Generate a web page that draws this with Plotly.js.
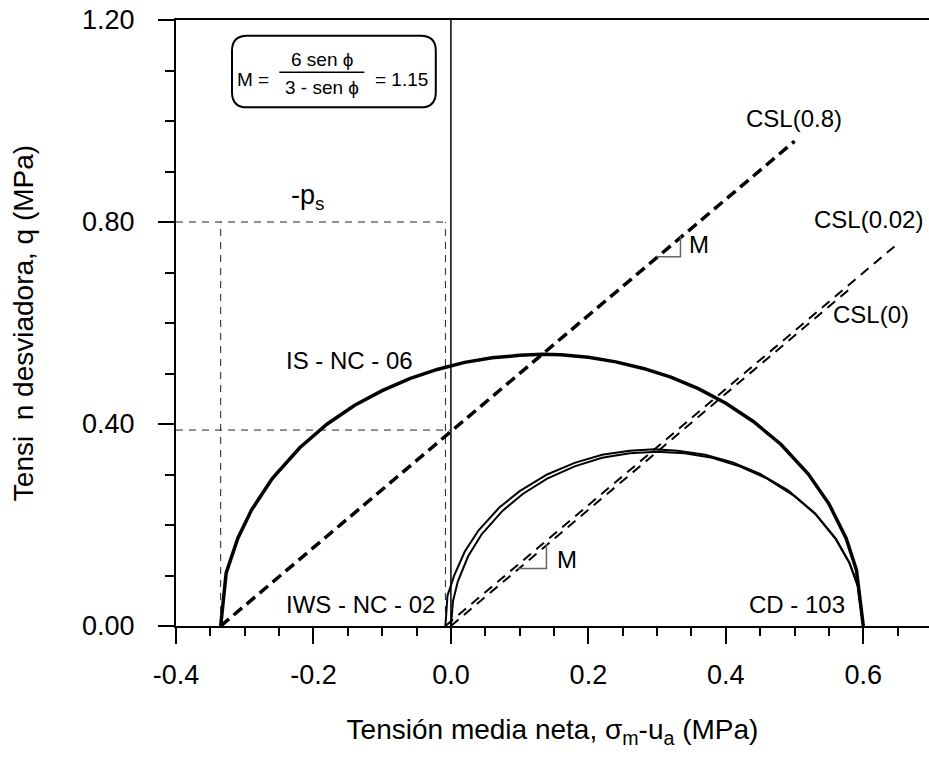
<!DOCTYPE html>
<html>
<head>
<meta charset="utf-8">
<script src="https://cdn.plot.ly/plotly-3.0.1.min.js"></script>
<style>html,body{margin:0;padding:0;background:#fff;}</style>
</head>
<body>
<div id="chart" style="width:929px;height:758px;"></div>
<script>
// ---- data ----
// IS - NC - 06 yield ellipse (thick)
const isnc06_p = [-0.335,-0.327,-0.31,-0.29,-0.26,-0.22,-0.18,-0.14,-0.10,-0.06,-0.02,0.02,0.06,0.10,0.1325,0.16,0.20,0.24,0.28,0.32,0.36,0.40,0.44,0.48,0.52,0.55,0.575,0.59,0.60];
const isnc06_q = [0,0.105,0.174,0.230,0.292,0.353,0.400,0.437,0.466,0.490,0.508,0.522,0.531,0.536,0.538,0.537,0.532,0.523,0.510,0.493,0.470,0.441,0.405,0.360,0.301,0.242,0.174,0.111,0];
// IWS - NC - 02 ellipse (thin, starts at -0.008)
const iws_p = [-0.008,-0.005,0.005,0.02,0.04,0.07,0.10,0.14,0.18,0.22,0.26,0.296,0.33,0.37,0.41,0.45,0.49,0.53,0.56,0.58,0.592,0.60];
const iws_q = [0,0.060,0.101,0.147,0.189,0.234,0.267,0.300,0.323,0.339,0.347,0.350,0.347,0.339,0.324,0.301,0.269,0.223,0.173,0.125,0.080,0];
// CD - 103 ellipse (thin, starts at 0)
const cd_p = [0,0.003,0.01,0.025,0.045,0.075,0.105,0.14,0.18,0.22,0.26,0.30,0.34,0.38,0.42,0.46,0.50,0.53,0.56,0.58,0.592,0.60];
const cd_q = [0,0.049,0.088,0.138,0.182,0.228,0.262,0.292,0.316,0.333,0.342,0.345,0.342,0.333,0.316,0.292,0.257,0.222,0.172,0.124,0.079,0];
// critical state lines
const csl08_p = [-0.335,0.50];   const csl08_q = [0,0.960];
const csl002_p = [-0.008,0.65];  const csl002_q = [0,0.757];
const csl0_p = [0,0.58];         const csl0_q = [0,0.667];
// guide lines
const ps = -0.335;          // -p_s
const ps2 = -0.008;
const qIntercept = 0.388;
const qTop = 0.80;
// slope triangles
const tri1_p = [0.299,0.334,0.334]; const tri1_q = [0.731,0.731,0.772];
const tri2_p = [0.098,0.139,0.139]; const tri2_q = [0.114,0.114,0.163];
// ticks
const xTickVals = [-0.4,-0.2,0.0,0.2,0.4,0.6];
const xTickText = ['-0.4','-0.2','0.0','0.2','0.4','0.6'];
const yTickVals = [0,0.4,0.8,1.2];
const yTickText = ['0.00','0.40','0.80','1.20'];

const line = (x,y,w,dash,color)=>({x:x,y:y,mode:'lines',type:'scatter',hoverinfo:'skip',
  line:{color:color||'black',width:w,dash:dash||'solid'}});

const traces = [
  line([ps,ps],[0,qTop],1,'7px,6px','#222'),
  line([ps2,ps2],[0,qTop],1,'7px,6px','#222'),
  line([-0.4,ps2],[qTop,qTop],1,'7px,6px','#222'),
  line([-0.4,0],[qIntercept,qIntercept],1,'7px,6px','#222'),
  line([0,0],[0,1.2],1.5,'solid','black'),
  line(csl08_p,csl08_q,3.5,'11px,6px'),
  line(csl002_p,csl002_q,2,'10px,7px'),
  line(csl0_p,csl0_q,2,'10px,7px'),
  line(isnc06_p,isnc06_q,3.5),
  line(iws_p,iws_q,2),
  line(cd_p,cd_q,2),
  line(tri1_p,tri1_q,1.5,'solid','#666'),
  line(tri2_p,tri2_q,1.5,'solid','#666')
];

const ann = (x,y,t,size,xa)=>({x:x,y:y,xref:'x',yref:'y',text:t,showarrow:false,
  xanchor:xa||'center',yanchor:'middle',font:{size:size,color:'black'}});

// formula box geometry (data coords)
const bx0=-0.3185, bx1=-0.022, by0=1.027, by1=1.1686, rx=0.022, ry=0.03;
const boxPath = `M ${bx0+rx},${by1} L ${bx1-rx},${by1} Q ${bx1},${by1} ${bx1},${by1-ry} L ${bx1},${by0+ry} Q ${bx1},${by0} ${bx1-rx},${by0} L ${bx0+rx},${by0} Q ${bx0},${by0} ${bx0},${by0+ry} L ${bx0},${by1-ry} Q ${bx0},${by1} ${bx0+rx},${by1} Z`;

const layout = {
  width:929, height:758,
  margin:{l:176,r:0,t:20,b:132},
  paper_bgcolor:'white', plot_bgcolor:'white',
  showlegend:false,
  font:{family:'"Liberation Sans", Arial, sans-serif', color:'black'},
  xaxis:{
    range:[-0.4,0.6956], tickmode:'array', tickvals:xTickVals, ticktext:xTickText,
    ticks:'outside', ticklen:16, tickwidth:2, tickcolor:'black',
    minor:{tickmode:'linear', tick0:-0.4, dtick:0.05, ticks:'outside', ticklen:8, tickwidth:2, tickcolor:'black', showgrid:false},
    showline:true, linewidth:2, linecolor:'black', mirror:true,
    showgrid:false, zeroline:false, tickfont:{size:27}, ticklabelstandoff:8,
    title:{text:'Tensión media neta, σ<sub>m</sub>-u<sub>a</sub> (MPa)', font:{size:28}, standoff:30}
  },
  yaxis:{
    range:[0,1.2], tickmode:'array', tickvals:yTickVals, ticktext:yTickText,
    ticks:'outside', ticklen:16, tickwidth:2, tickcolor:'black',
    minor:{tickmode:'linear', tick0:0, dtick:0.1, ticks:'outside', ticklen:9, tickwidth:2, tickcolor:'black', showgrid:false},
    showline:true, linewidth:2, linecolor:'black', mirror:false,
    showgrid:false, zeroline:false, tickfont:{size:27}, ticklabelstandoff:18,
    title:{text:'Tensi  n desviadora, q (MPa)', font:{size:28}, standoff:40}
  },
  shapes:[
    {type:'path', xref:'x', yref:'y', path:boxPath, line:{color:'black',width:2}, fillcolor:'rgba(0,0,0,0)'},
    {type:'line', xref:'x', yref:'y', x0:-0.2497, x1:-0.126, y0:1.0966, y1:1.0966, line:{color:'black',width:1.5}}
  ],
  annotations:[
    ann(-0.288,1.083,'M =',19),
    ann(-0.188,1.121,'6 sen ϕ',19),
    ann(-0.188,1.066,'3 - sen ϕ',19),
    ann(-0.1134,1.083,'= 1.15',19,'left'),
    ann(-0.147,0.525,'IS - NC - 06',24),
    ann(-0.132,0.043,'IWS - NC - 02',24),
    ann(0.503,0.043,'CD - 103',24),
    ann(0.499,1.004,'CSL(0.8)',24),
    ann(0.608,0.805,'CSL(0.02)',24),
    ann(0.611,0.617,'CSL(0)',24),
    ann(0.361,0.756,'M',24),
    ann(0.169,0.132,'M',24),
    ann(-0.208,0.850,'-p<sub>s</sub>',27)
  ]
};

Plotly.newPlot('chart', traces, layout, {staticPlot:true, displayModeBar:false});
</script>
</body>
</html>
